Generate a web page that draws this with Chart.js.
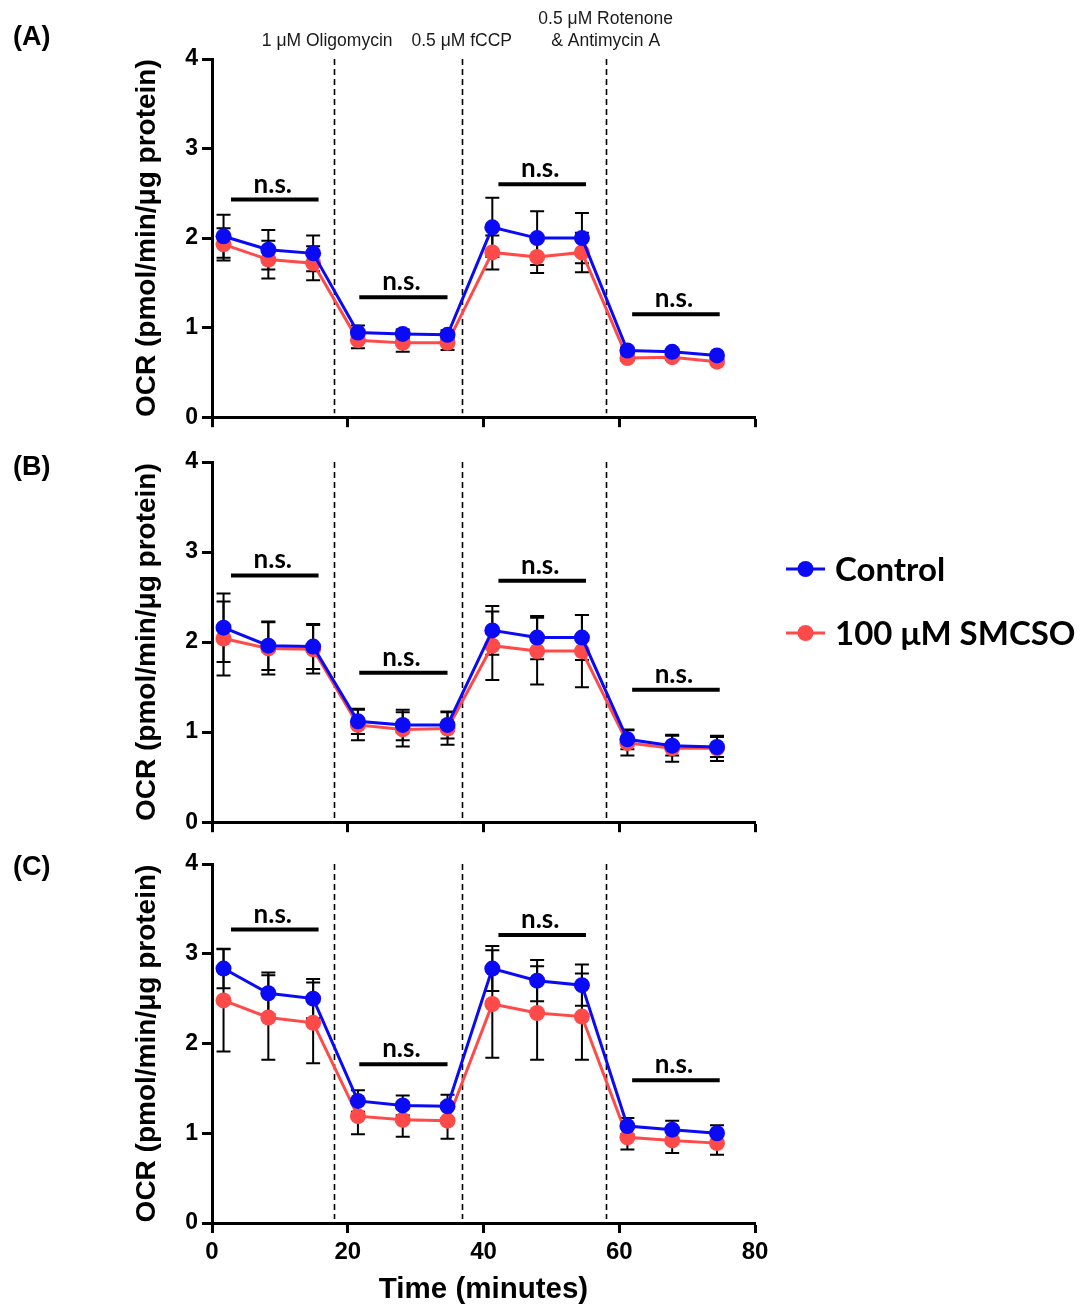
<!DOCTYPE html>
<html>
<head>
<meta charset="utf-8">
<script src="https://cdn.jsdelivr.net/npm/chart.js@4.4.1/dist/chart.umd.min.js"></script>
<style>
  html, body { margin: 0; padding: 0; background: #fff; }
  #wrap { position: relative; width: 1083px; height: 1307px; overflow: hidden; }
  canvas { position: absolute; left: 0; }
</style>
</head>
<body>
<div id="wrap">
  <canvas id="cA" width="1083" height="435" style="top:0px"></canvas>
  <canvas id="cB" width="1083" height="410" style="top:430px"></canvas>
  <canvas id="cC" width="1083" height="473" style="top:835px"></canvas>
</div>
<script>
// ---- data ----
const times = [1.7, 8.3, 14.9, 21.5, 28.1, 34.7, 41.3, 47.9, 54.5, 61.2, 67.8, 74.4];
const seriesNames = ['Control', '100 μM SMCSO'];
const xTicks = [0, 20, 40, 60, 80];
const yTicks = [0, 1, 2, 3, 4];

const ctrlA    = [2.02, 1.87, 1.83, 0.945, 0.93, 0.92, 2.12, 2.00, 2.00, 0.745, 0.73, 0.69];
const ctrlAErr = [0.24, 0.22, 0.20, 0.08, 0.05, 0.05, 0.33, 0.30, 0.28, 0.03, 0.03, 0.03];
const smcA     = [1.93, 1.76, 1.72, 0.86, 0.83, 0.83, 1.84, 1.79, 1.84, 0.66, 0.67, 0.62];
const smcAErr  = [0.18, 0.21, 0.19, 0.09, 0.10, 0.08, 0.19, 0.18, 0.22, 0.03, 0.03, 0.03];

const ctrlB    = [2.16, 1.96, 1.95, 1.12, 1.08, 1.08, 2.13, 2.05, 2.05, 0.92, 0.85, 0.835];
const ctrlBErr = [0.38, 0.27, 0.25, 0.14, 0.17, 0.15, 0.27, 0.24, 0.25, 0.11, 0.11, 0.11];
const smcB     = [2.04, 1.93, 1.92, 1.08, 1.03, 1.04, 1.96, 1.90, 1.90, 0.88, 0.82, 0.82];
const smcBErr  = [0.41, 0.29, 0.27, 0.17, 0.19, 0.18, 0.38, 0.37, 0.40, 0.14, 0.15, 0.14];

const ctrlC    = [2.835, 2.56, 2.50, 1.36, 1.31, 1.30, 2.835, 2.70, 2.65, 1.08, 1.04, 1.00];
const ctrlCErr = [0.22, 0.23, 0.22, 0.12, 0.11, 0.13, 0.25, 0.23, 0.23, 0.09, 0.10, 0.09];
const smcC     = [2.48, 2.29, 2.23, 1.19, 1.15, 1.14, 2.44, 2.34, 2.30, 0.955, 0.92, 0.89];
const smcCErr  = [0.57, 0.47, 0.45, 0.20, 0.19, 0.20, 0.60, 0.52, 0.48, 0.135, 0.14, 0.13];

const nsStart = [2.8, 21.7, 42.2, 61.9];
const nsEnd   = [15.7, 34.7, 55.1, 74.8];
const nsYA = [2.43, 1.34, 2.60, 1.15];
const nsYB = [2.74, 1.66, 2.68, 1.47];
const nsYC = [3.27, 1.77, 3.21, 1.59];

const injections = [18, 36.8, 58];
const injectionLabels = [['1 μM Oligomycin'], ['0.5 μM fCCP'], ['0.5 μM Rotenone', '& Antimycin A']];
const panelLetters = ['(A)', '(B)', '(C)'];

// ---- styles ----
const BLUE = '#0a0af5';
const RED = '#ff4a4a';
const ARIAL = '"Liberation Sans", Arial, sans-serif';
const CALIBRI = 'Lato, "Open Sans", sans-serif';

const ocrPlugin = {
  id: 'ocr',
  beforeDatasetsDraw(chart, args, opts) {
    const ctx = chart.ctx;
    const xs = chart.scales.x, ys = chart.scales.y;
    const area = chart.chartArea;
    ctx.save();
    ctx.strokeStyle = '#000';
    ctx.lineWidth = 1.6;
    ctx.setLineDash([6, 4]);
    injections.forEach(t => {
      const x = Math.round(xs.getPixelForValue(t)) + 0.5;
      ctx.beginPath();
      ctx.moveTo(x, area.top);
      ctx.lineTo(x, area.bottom - 4);
      ctx.stroke();
    });
    ctx.setLineDash([]);
    ctx.lineWidth = 2;
    chart.data.datasets.forEach(ds => {
      ds.errors.forEach((e, i) => {
        const v = ds.data[i].y;
        const x = xs.getPixelForValue(ds.data[i].x);
        const y1 = ys.getPixelForValue(v + e);
        const y2 = ys.getPixelForValue(v - e);
        ctx.beginPath();
        ctx.moveTo(x, y1); ctx.lineTo(x, y2);
        ctx.moveTo(x - 7, y1); ctx.lineTo(x + 7, y1);
        ctx.moveTo(x - 7, y2); ctx.lineTo(x + 7, y2);
        ctx.stroke();
      });
    });
    ctx.restore();
  },
  afterDatasetsDraw(chart, args, opts) {
    const ctx = chart.ctx;
    const xs = chart.scales.x, ys = chart.scales.y;
    ctx.save();
    ctx.fillStyle = '#000';
    ctx.strokeStyle = '#000';
    ctx.lineWidth = 4;
    ctx.textAlign = 'center';
    ctx.textBaseline = 'alphabetic';
    ctx.font = 'bold 26px ' + CALIBRI;
    opts.nsY.forEach((v, i) => {
      const x1 = xs.getPixelForValue(nsStart[i]);
      const x2 = xs.getPixelForValue(nsEnd[i]);
      const y = ys.getPixelForValue(v);
      ctx.beginPath();
      ctx.moveTo(x1, y); ctx.lineTo(x2, y);
      ctx.stroke();
      ctx.fillText('n.s.', (x1 + x2) / 2 - 2, y - 7);
    });
    ctx.restore();
  },
  afterDraw(chart, args, opts) {
    const ctx = chart.ctx;
    const xs = chart.scales.x;
    ctx.save();
    ctx.fillStyle = '#000';
    ctx.font = 'bold 27px ' + ARIAL;
    ctx.textAlign = 'left';
    ctx.textBaseline = 'middle';
    ctx.fillText(panelLetters[opts.panel], 13, opts.letterY);
    if (opts.showInjections) {
      ctx.font = '17.5px ' + ARIAL;
      ctx.fillStyle = '#1a1a1a';
      ctx.textAlign = 'center';
      const offs = [-7, 0, 0];
      injectionLabels.forEach((lines, i) => {
        const x = xs.getPixelForValue(injections[i]) + offs[i];
        lines.forEach((txt, j) => {
          const y = 41 - (lines.length - 1 - j) * 22;
          ctx.fillText(txt, x, y);
        });
      });
    }
    if (opts.showLegend) {
      const items = chart.data.datasets;
      items.forEach((ds, i) => {
        const y = opts.legendY[i];
        ctx.strokeStyle = ds.borderColor;
        ctx.fillStyle = ds.borderColor;
        ctx.lineWidth = 3;
        ctx.beginPath();
        ctx.moveTo(786, y); ctx.lineTo(825, y);
        ctx.stroke();
        ctx.beginPath();
        ctx.arc(805.5, y, 8, 0, Math.PI * 2);
        ctx.fill();
        ctx.fillStyle = '#000';
        ctx.font = 'bold 33px ' + CALIBRI;
        ctx.textAlign = 'left';
        ctx.textBaseline = 'middle';
        ctx.fillText(ds.label, 835, y + 1);
      });
    }
    ctx.restore();
  }
};

function pts(vals) { return vals.map((v, i) => ({ x: times[i], y: v })); }

function makeChart(id, ctrl, ctrlErr, smc, smcErr, nsY, cfg) {
  const datasets = [
    { label: seriesNames[0], data: pts(ctrl), errors: ctrlErr, borderColor: BLUE, backgroundColor: BLUE,
      pointBackgroundColor: BLUE, borderWidth: 3, pointRadius: 8, pointBorderWidth: 0, tension: 0 },
    { label: seriesNames[1], data: pts(smc), errors: smcErr, borderColor: RED, backgroundColor: RED,
      pointBackgroundColor: RED, borderWidth: 3, pointRadius: 8, pointBorderWidth: 0, tension: 0 }
  ];
  return new Chart(document.getElementById(id), {
    type: 'line',
    data: { datasets },
    plugins: [ocrPlugin],
    options: {
      responsive: false,
      animation: false,
      clip: false,
      layout: { padding: { top: cfg.padTop, right: 328, left: 0, bottom: 0 } },
      plugins: {
        legend: { display: false },
        tooltip: { enabled: false },
        ocr: { nsY, panel: cfg.panel, letterY: cfg.letterY, showInjections: cfg.showInjections,
               showLegend: cfg.showLegend, legendY: cfg.legendY }
      },
      scales: {
        x: {
          type: 'linear', min: 0, max: 80,
          afterBuildTicks(scale) { scale.ticks = xTicks.map(v => ({ value: v })); },
          afterFit(scale) { scale.height = cfg.xHeight; },
          grid: { drawOnChartArea: false, drawTicks: true, tickLength: 10, tickWidth: 3, tickColor: '#000' },
          border: { display: true, width: 3, color: '#000' },
          ticks: { display: cfg.showXLabels, padding: 5, color: '#000', maxRotation: 0,
                   font: { family: ARIAL, size: 24, weight: 'bold' } },
          title: { display: cfg.showXLabels, text: 'Time (minutes)', color: '#000',
                   font: { family: ARIAL, size: 29.5, weight: 'bold' }, padding: { top: 0, bottom: 0 } }
        },
        y: {
          min: 0, max: 4,
          afterBuildTicks(scale) { scale.ticks = yTicks.map(v => ({ value: v })); },
          afterFit(scale) { scale.width = 212; },
          grid: { drawOnChartArea: false, drawTicks: true, tickLength: 10, tickWidth: 3, tickColor: '#000' },
          border: { display: true, width: 3, color: '#000' },
          ticks: { padding: 4, color: '#000', font: { family: ARIAL, size: 23, weight: 'bold' } },
          title: { display: true, text: 'OCR (pmol/min/μg protein)', color: '#000',
                   font: { family: ARIAL, size: 28, weight: 'bold' }, padding: { top: 130, bottom: 0 } }
        }
      }
    }
  });
}

makeChart('cA', ctrlA, ctrlAErr, smcA, smcAErr, nsYA,
  { panel: 0, padTop: 59, xHeight: 14, showXLabels: false, letterY: 38, showInjections: true, showLegend: false });
makeChart('cB', ctrlB, ctrlBErr, smcB, smcBErr, nsYB,
  { panel: 1, padTop: 32, xHeight: 14, showXLabels: false, letterY: 38, showInjections: false, showLegend: true, legendY: [139, 203] });
makeChart('cC', ctrlC, ctrlCErr, smcC, smcCErr, nsYC,
  { panel: 2, padTop: 29, xHeight: 85, showXLabels: true, letterY: 33, showInjections: false, showLegend: false });
</script>
</body>
</html>
